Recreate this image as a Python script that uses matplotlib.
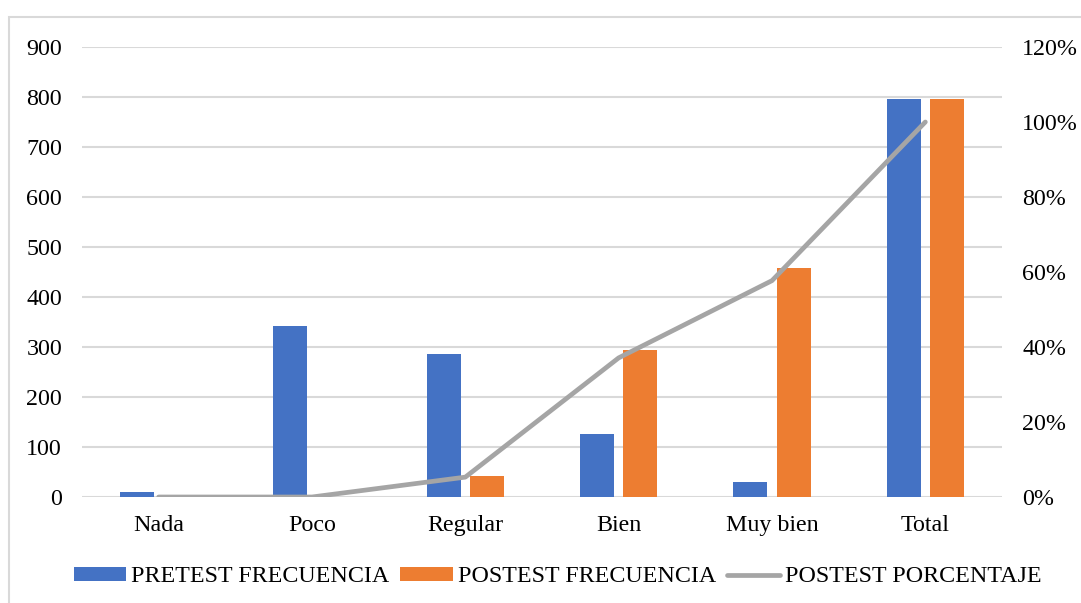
import matplotlib
matplotlib.use("Agg")
import matplotlib.pyplot as plt
import numpy as np
from matplotlib.patches import Rectangle
from matplotlib.ticker import FuncFormatter

categories = ["Nada", "Poco", "Regular", "Bien", "Muy bien", "Total"]
pretest_frecuencia = [10, 343, 287, 126, 30, 796]
postest_frecuencia = [0, 0, 42, 295, 459, 796]
postest_porcentaje = [0.0, 0.0, 5.3, 37.1, 57.7, 100.0]
left_ticks = [0, 100, 200, 300, 400, 500, 600, 700, 800, 900]
right_ticks = [0, 20, 40, 60, 80, 100, 120]

plt.rcParams['font.family'] = ['Liberation Serif', 'DejaVu Serif']
FS = 17.3

W, H = 1081, 603
fig = plt.figure(figsize=(W / 100, H / 100), dpi=100)
fig.patch.set_facecolor('white')

# outer frame of chart area
fig.patches.append(Rectangle((9 / W, -0.05), 1.2, 1 - 17 / H + 0.05, transform=fig.transFigure,
                             fill=False, edgecolor='#d9d9d9', linewidth=1.5, zorder=0))

ax = fig.add_axes([82 / W, (H - 497) / H, 920 / W, 450 / H])
x = np.arange(len(categories))
bw = 0.222
off = 0.141
ax.bar(x - off, pretest_frecuencia, bw, color='#4472c4', label='PRETEST FRECUENCIA', zorder=3)
ax.bar(x + off, postest_frecuencia, bw, color='#ed7d31', label='POSTEST FRECUENCIA', zorder=3)
ax.set_xlim(-0.5, len(categories) - 0.5)
ax.set_ylim(0, 900)
ax.set_yticks(left_ticks)
ax.set_xticks(x)
ax.set_xticklabels(categories, fontsize=FS)
ax.tick_params(axis='y', labelsize=FS, length=0, pad=14.4)
ax.tick_params(axis='x', length=0, pad=13)
ax.grid(axis='y', color='#d9d9d9', linewidth=1.5, zorder=0)
ax.set_axisbelow(True)
for s in ax.spines.values():
    s.set_visible(False)

ax2 = ax.twinx()
ax2.plot(x, postest_porcentaje, color='#a5a5a5', linewidth=3.4, solid_capstyle='round',
         solid_joinstyle='round', label='POSTEST PORCENTAJE', zorder=4)
ax2.set_ylim(0, 120)
ax2.set_yticks(right_ticks)
ax2.yaxis.set_major_formatter(FuncFormatter(lambda v, p: f"{int(v)}%"))
ax2.tick_params(axis='y', labelsize=FS, length=0, pad=14.5)
for s in ax2.spines.values():
    s.set_visible(False)

h1, l1 = ax.get_legend_handles_labels()
h2, l2 = ax2.get_legend_handles_labels()
fig.legend(h1 + h2, l1 + l2, loc='center', bbox_to_anchor=(557.5 / W, 1 - 577 / H), ncol=3,
           frameon=False, fontsize=FS, handlelength=2.2, handleheight=0.5,
           handletextpad=0.19, columnspacing=0.47, borderpad=0, borderaxespad=0)

fig.savefig('out.png', dpi=100, facecolor='white')
